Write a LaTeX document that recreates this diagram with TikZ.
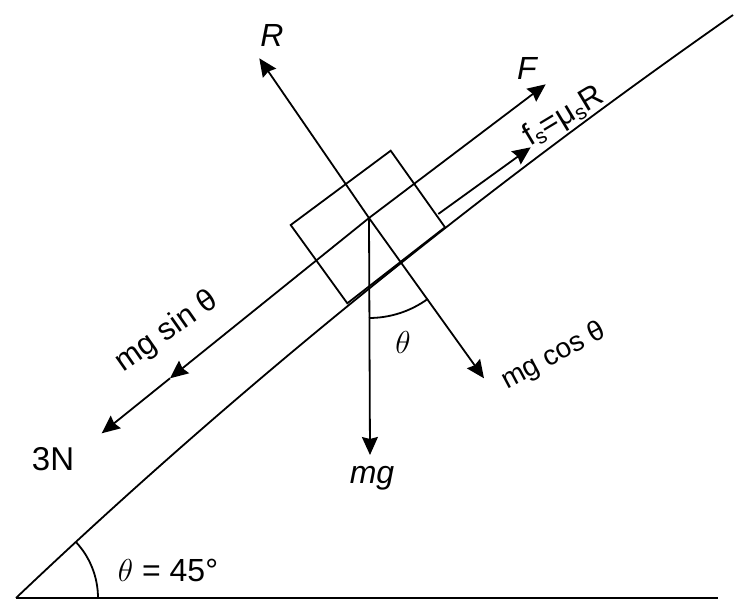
\documentclass[tikz,border=0pt]{standalone}
\usepackage{graphicx}
\usepackage{fontspec}
\setmainfont{Liberation Sans}
\usetikzlibrary{arrows.meta}
\newcommand\fsz[1]{\fontsize{#1}{#1}\selectfont}
\newcommand\lowsub[1]{\raisebox{-0.12em}{\fontsize{21}{21}\selectfont #1}}
\newcommand\bigth{\resizebox{!}{22pt}{$\theta$}}
\tikzset{
  ln/.style={line width=1.8pt},
  arr/.style={ln, -{Stealth[length=18pt,width=16pt,inset=2pt]}},
  lbl/.style={inner sep=0pt},
}
\begin{document}
\begin{tikzpicture}[x=1pt,y=-1pt]
\useasboundingbox (0,0) rectangle (748,615);
% key points
\coordinate (G) at (16,598);
\coordinate (Gend) at (718,598);
\coordinate (Itop) at (733,15);
\coordinate (O) at (369,218);
\coordinate (BL) at (290.7,225);
\coordinate (BT) at (390.7,150.7);
\coordinate (BR) at (445,227.3);
\coordinate (BB) at (347.3,303.3);
\coordinate (Rtip) at (259.3,58.3);
\coordinate (Ftip) at (545.7,84.3);
\coordinate (Fs0) at (438.3,214);
\coordinate (Fstip) at (530.7,147.3);
\coordinate (Mc) at (484,378.3);
\coordinate (Mg) at (370,455);
\coordinate (M1) at (170,378.3);
\coordinate (M2) at (101.7,433.3);
% ground and incline
\draw[ln] (G) -- (Gend);
\draw[ln] (G) .. controls (232,392.7) and (471,198.3) .. (Itop);
% angle arc at base
\draw[ln] ([shift={(82,0)}]G) arc[start angle=0,end angle=43,radius=82pt];
% block
\draw[ln] (BL) -- (BT) -- (BR) -- (BB) -- cycle;
% forces
\draw[arr] (O) -- (Rtip);
\draw[arr] (O) -- (Ftip);
\draw[arr] (Fs0) -- (Fstip);
\draw[arr] (O) -- (Mc);
\draw[arr] (O) -- (Mg);
\draw[arr] (O) -- (M1);
\draw[arr] (M1) -- (M2);
% theta arc between mg and mg cos theta
\draw[ln] ([shift={(0,100)}]O) arc[start angle=-90,end angle=-54,radius=100pt];
% labels
\node[lbl, font=\fsz{32}\itshape] (Rl) at (272,35) {R};
\node[lbl, font=\fsz{32}\itshape] (Fl) at (527,68) {F};
\node[lbl, font=\fsz{31}, rotate=31] (fsl) at (564,117) {f\lowsub{s}=μ\lowsub{s}R};
\node[lbl, font=\fsz{31}, rotate=35] (msl) at (167,332) {mg sin θ};
\node[lbl, font=\fsz{28}, rotate=28] (mcl) at (554,356) {mg cos θ};
\node[lbl, font=\fsz{32}] (thl) at (403,342) {\bigth};
\node[lbl, font=\fsz{32}\itshape] (mgl) at (372,478) {mg};
\node[lbl, font=\fsz{33}] (nl) at (53,459) {3N};
\node[lbl, font=\fsz{32}] (angl) at (168,570) {\bigth{} = 45°};
\end{tikzpicture}
\end{document}
